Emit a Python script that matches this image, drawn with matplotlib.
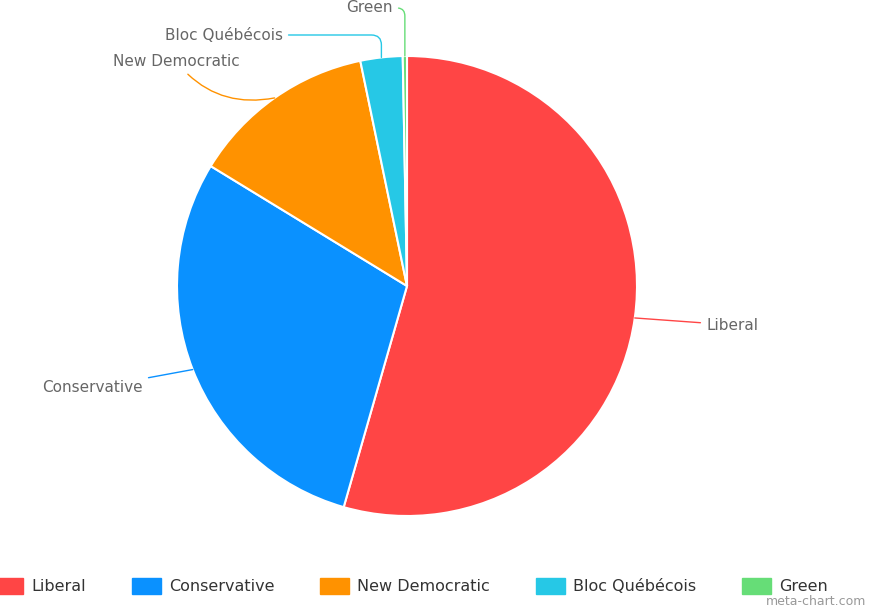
import matplotlib
matplotlib.use("Agg")
import matplotlib.pyplot as plt
import matplotlib.patches as mpatches
import numpy as np

parties = ["Liberal", "Conservative", "New Democratic", "Bloc Québécois", "Green"]
seats = [184, 99, 44, 10, 1]
colors = ["#FF4545", "#0A91FF", "#FF9200", "#26C8E6", "#66DD77"]

fig = plt.figure(figsize=(8.71, 6.08), dpi=100)
W, H = 871, 608
ax = fig.add_axes([(407-230)/W, (608-516)/H, 460/W, 460/H])
wedges, _ = ax.pie(seats, colors=colors, startangle=90, counterclock=False,
                   wedgeprops=dict(edgecolor="white", linewidth=1.5))
ax.set_xlim(-1, 1); ax.set_ylim(-1, 1)
ax.set_aspect("equal")
ax.axis("off")

label_pos = [(706, 325, "left"), (143, 388, "right"), (240, 62, "right"),
             (283, 35, "right"), (393, 8, "right")]
conn = ["arc3,rad=0", "arc3,rad=0", "arc3,rad=0.3", "angle,angleA=180,angleB=90,rad=10",
        "angle,angleA=180,angleB=90,rad=8"]
for w, (px, py, ha), c, name, cs in zip(wedges, label_pos, colors, parties, conn):
    ang = np.deg2rad((w.theta1 + w.theta2) / 2)
    xy = (np.cos(ang), np.sin(ang))
    ax.annotate(name, xy=xy, xycoords="data",
                xytext=(px/W, 1-py/H), textcoords="figure fraction",
                ha=ha, va="center", fontsize=11, color="#666666",
                arrowprops=dict(arrowstyle="-", color=c, lw=1, connectionstyle=cs,
                                shrinkA=2, shrinkB=0))

handles = [mpatches.Patch(color=c, label=p) for c, p in zip(colors, parties)]
fig.legend(handles=handles, loc="center", bbox_to_anchor=(0.472, 1-586/H), ncol=5,
           frameon=False, fontsize=11.5, handlelength=1.8, handleheight=1.2,
           columnspacing=2.9, handletextpad=0.5, labelcolor="#333333")
fig.text(0.995, 0.0, "meta-chart.com", ha="right", va="bottom", fontsize=9, color="#999999")
fig.savefig("out.png", dpi=100)
